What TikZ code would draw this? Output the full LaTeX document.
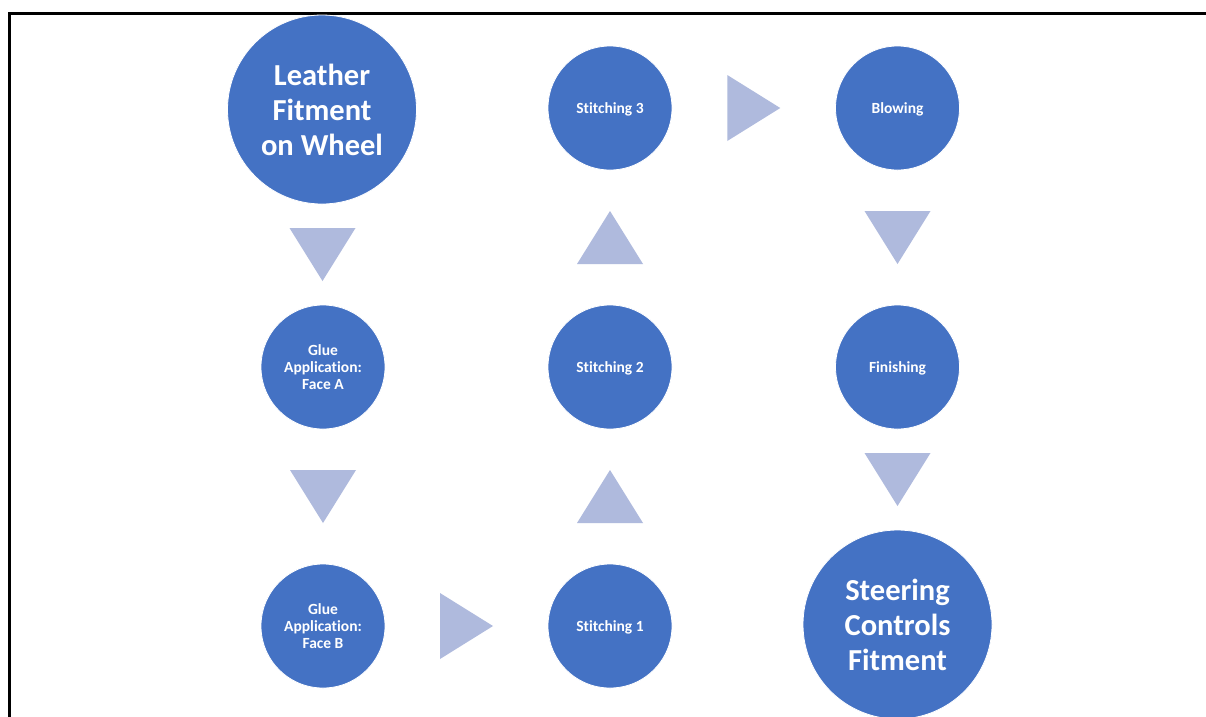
\documentclass[tikz,border=0pt]{standalone}
\usepackage{fontspec}
\setmainfont{Carlito}[RawFeature={-liga}]
\usetikzlibrary{calc}
\definecolor{circblue}{HTML}{4472C4}
\definecolor{tricol}{HTML}{AFBADD}
\tikzset{
  stepcirc/.style={circle, fill=circblue, draw=white, line width=0.8pt, inner sep=0pt, minimum size=124pt, text=white, align=center, font=\bfseries\fontsize{15.5}{17}\selectfont},
  onecirc/.style={stepcirc, text height=12pt, text depth=0.5pt},
  bigcirc/.style={stepcirc, minimum size=189pt, font=\bfseries\fontsize{30.5}{35}\selectfont},
  tridown/.pic={\fill[tricol] (-33,-26.5) -- (33,-26.5) -- (0,26.5) -- cycle;},
  triup/.pic={\fill[tricol] (-33,26.5) -- (33,26.5) -- (0,-26.5) -- cycle;},
  triright/.pic={\fill[tricol] (-26.5,-33) -- (26.5,0) -- (-26.5,33) -- cycle;}
}
\begin{document}
\begin{tikzpicture}[x=1pt,y=-1pt]
\useasboundingbox (0,0) rectangle (1206,716);
\fill[white] (0,0) rectangle (1206,716);
\draw[line width=3pt] (9.5,720) -- (9.5,13.5) -- (1210,13.5);
% nodes
\node[bigcirc] (lfw) at (322,109.5) {Leather\\Fitment\\on Wheel};
\node[stepcirc] (ga) at (323,367) {Glue\\Application:\\Face A};
\node[stepcirc] (gb) at (323,626) {Glue\\Application:\\Face B};
\node[onecirc] (s1) at (610,626) {Stitching 1};
\node[onecirc] (s2) at (610,367) {Stitching 2};
\node[onecirc] (s3) at (610,108) {Stitching 3};
\node[onecirc] (bl) at (897.5,108) {Blowing};
\node[onecirc] (fi) at (897.5,367) {Finishing};
\node[bigcirc] (scf) at (897.5,624.5) {Steering\\Controls\\Fitment};
% arrows
\path ($(lfw.south)!0.5!(ga.north)$) pic {tridown};
\path ($(ga.south)!0.5!(gb.north)$) pic {tridown};
\path ($(gb.east)!0.5!(s1.west)$) pic {triright};
\path ($(s1.north)!0.5!(s2.south)$) pic {triup};
\path ($(s2.north)!0.5!(s3.south)$) pic {triup};
\path ($(s3.east)!0.5!(bl.west)$) pic {triright};
\path ($(bl.south)!0.5!(fi.north)$) pic {tridown};
\path ($(fi.south)!0.5!(scf.north)$) pic {tridown};
\end{tikzpicture}
\end{document}
